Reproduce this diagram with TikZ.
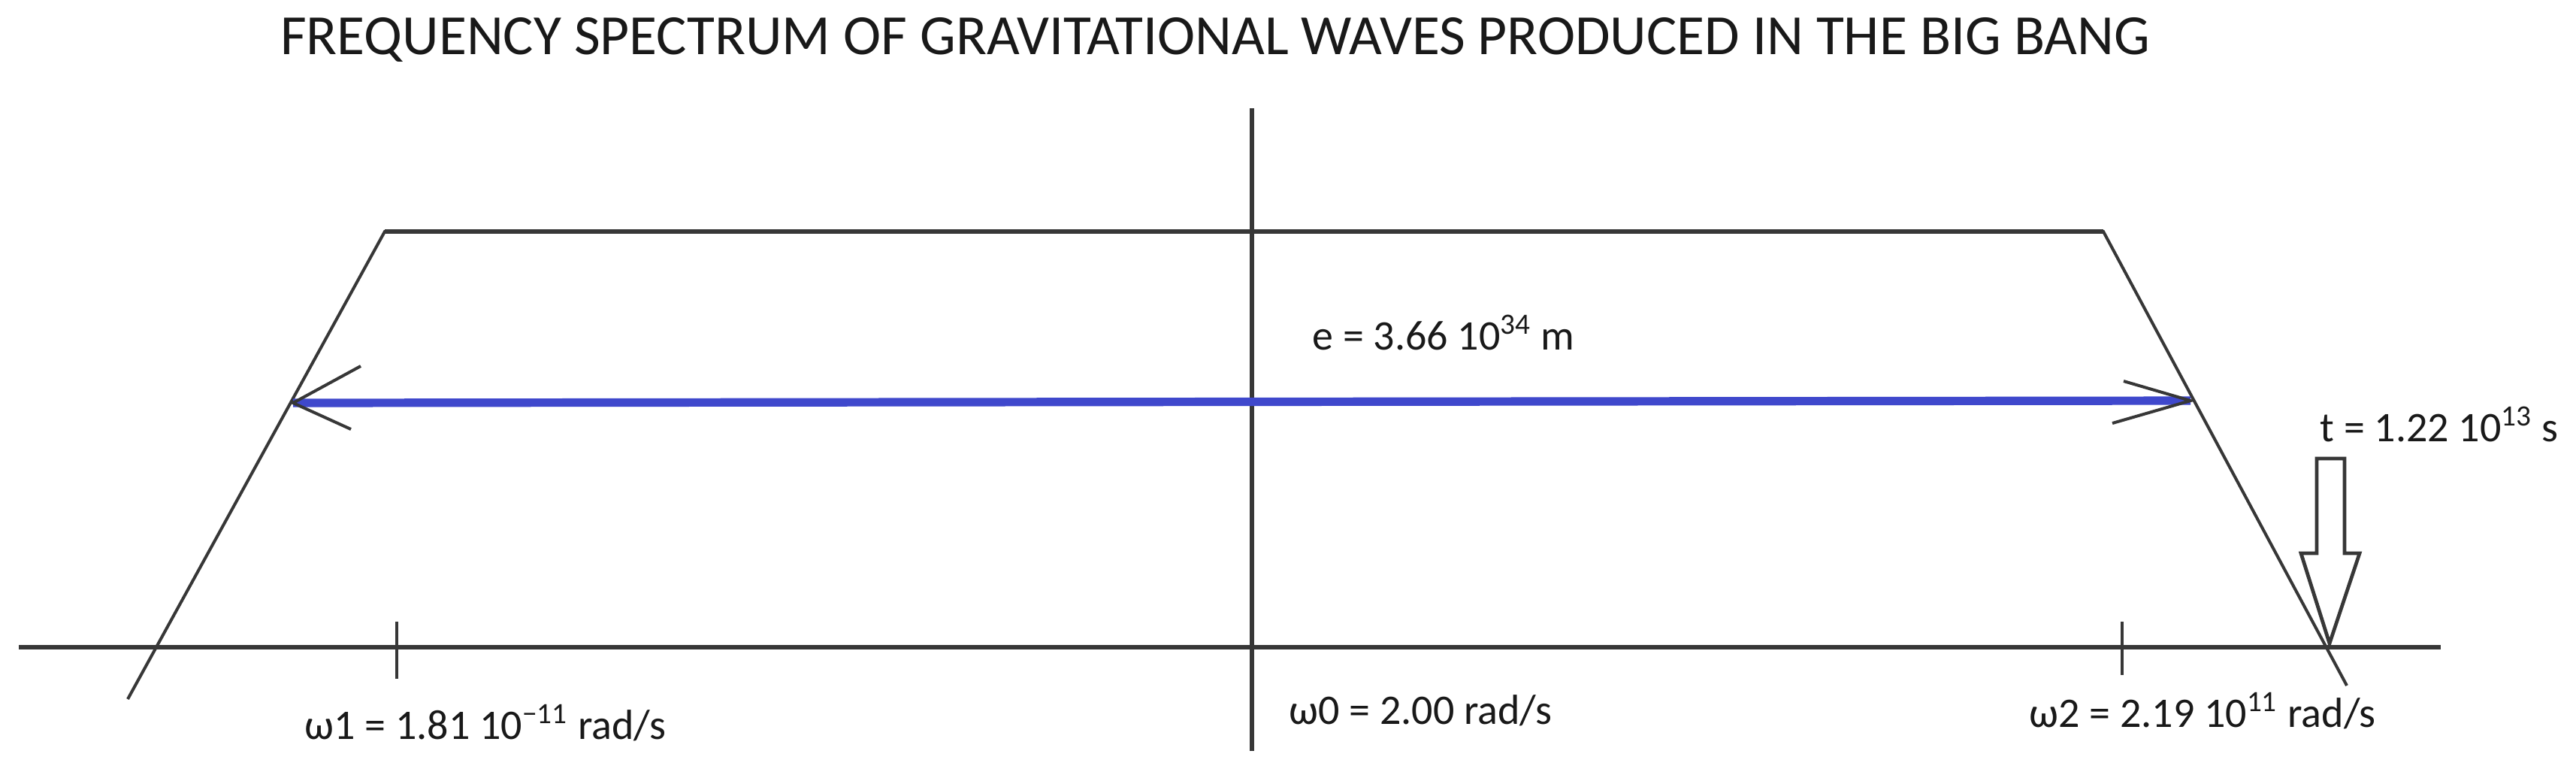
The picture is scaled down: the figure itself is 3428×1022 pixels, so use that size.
\documentclass[tikz,border=0pt]{standalone}
\usepackage{fontspec}
\setmainfont{Carlito}
\definecolor{lineg}{RGB}{55,55,55}
\definecolor{txt}{RGB}{25,25,25}
\definecolor{paintblue}{RGB}{63,72,204}
\begin{document}
\begin{tikzpicture}[x=0.25pt,y=-0.25pt,
  thinln/.style={draw=lineg, line width=1pt},
  axisln/.style={draw=lineg, line width=1.4pt},
  barb/.style={draw=lineg, line width=1pt},
  lbl/.style={anchor=base west, inner sep=0pt, font=\fontsize{14}{16}\selectfont, text=txt},
  ttl/.style={anchor=base, inner sep=0pt, font=\fontsize{18.9}{21}\selectfont, text=txt}]
\useasboundingbox[fill=white] (0,0) rectangle (3428,1022);
% key points
\coordinate (lb) at (170,930);
\coordinate (lt) at (512,308);
\coordinate (rt) at (2799,308);
\coordinate (rb) at (3123,912);
\coordinate (axl) at (25,861);
\coordinate (axr) at (3248,861);
\coordinate (vt) at (1666,144);
\coordinate (vb) at (1666,999);
\coordinate (tk1a) at (528,827);
\coordinate (tk1b) at (528,903);
\coordinate (tk2a) at (2824,827);
\coordinate (tk2b) at (2824,898);
\coordinate (atl) at (390,536);
\coordinate (atr) at (2915,533);
% axes
\draw[axisln] (axl) -- (axr);
\draw[axisln] (vt) -- (vb);
\draw[thinln] (tk1a) -- (tk1b);
\draw[thinln] (tk2a) -- (tk2b);
% spectrum outline
\draw[thinln, line join=miter] (lb) -- (lt) -- (rt) -- (rb);
\draw[draw=lineg, line width=1.3pt] (lt) -- (rt);
% blue double arrow
\draw[draw=paintblue, line width=2.8pt] (atl) -- (atr);
\draw[barb] (480,487) -- (atl) -- (467,571);
\draw[barb] (2826,507) -- (atr) -- (2811,563);
% hollow arrow for t
\draw[draw=lineg, line width=1.2pt, line join=miter]
  (3083,610) -- (3120,610) -- (3120,736) -- (3140,736) -- (3100,856)
  -- (3062,736) -- (3083,736) -- cycle;
% texts
\node[ttl] (title) at (1617,72) {FREQUENCY SPECTRUM OF GRAVITATIONAL WAVES PRODUCED IN THE BIG BANG};
\node[lbl] (elab) at (1746,465) {e = 3.66 10\textsuperscript{34} m};
\node[lbl] (tlab) at (3087,587) {t = 1.22 10\textsuperscript{13} s};
\node[lbl] (w1) at (405,983) {ω1 = 1.81 10\textsuperscript{−11} rad/s};
\node[lbl] (w0) at (1715,963) {ω0 = 2.00 rad/s};
\node[lbl] (w2) at (2700,967) {ω2 = 2.19 10\textsuperscript{11} rad/s};
\end{tikzpicture}
\end{document}
